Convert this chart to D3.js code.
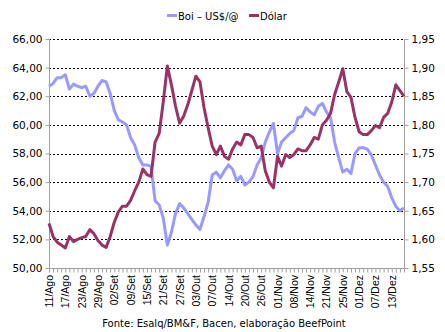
<!DOCTYPE html>
<html><head><meta charset="utf-8">
<script src="https://cdn.jsdelivr.net/npm/d3@7"></script>
<style>
body{margin:0;background:#fff;}
svg text{font-family:"DejaVu Sans",Verdana,sans-serif;fill:#000;}
</style></head>
<body>
<svg id="c" width="445" height="332"></svg>
<script>
const dateLabels = ["11/Ago","17/Ago","23/Ago","29/Ago","02/Set","09/Set","15/Set","21/Set","27/Set","03/Out","07/Out","14/Out","20/Out","26/Out","01/Nov","08/Nov","14/Nov","21/Nov","25/Nov","01/Dez","07/Dez","13/Dez"];
const labelEvery = 4;
const boi = [62.7,62.9,63.3,63.3,63.5,62.5,62.85,62.7,62.6,62.7,62.0,62.2,62.7,63.1,63.0,62.2,61.0,60.35,60.2,60.0,
59.1,58.6,57.7,57.2,57.2,57.1,54.7,54.4,53.5,51.6,52.5,53.8,54.5,54.2,53.8,53.4,53.0,52.7,53.6,54.6,
56.5,56.7,56.3,56.8,57.2,56.9,56.1,56.4,55.8,56.0,56.4,57.2,57.7,58.8,59.5,60.1,58.0,58.8,59.1,59.4,
59.6,60.5,60.6,61.2,60.9,60.7,61.3,61.5,60.9,60.5,58.8,57.7,56.7,56.9,56.6,58.0,58.4,58.4,58.3,57.9,
57.2,56.5,56.0,55.7,54.9,54.3,54.0,54.2];
const dolar = [1.628,1.605,1.595,1.590,1.585,1.605,1.596,1.600,1.603,1.605,1.617,1.610,1.598,1.590,1.586,1.605,1.630,1.648,1.658,1.658,
1.668,1.685,1.700,1.723,1.713,1.710,1.770,1.785,1.840,1.903,1.870,1.833,1.803,1.815,1.835,1.860,1.885,1.875,1.830,1.795,
1.763,1.748,1.763,1.745,1.740,1.758,1.770,1.765,1.783,1.783,1.778,1.760,1.763,1.720,1.700,1.690,1.745,1.728,1.748,1.743,
1.748,1.758,1.755,1.755,1.765,1.778,1.775,1.800,1.808,1.820,1.853,1.875,1.898,1.858,1.848,1.813,1.788,1.783,1.783,1.790,
1.799,1.795,1.813,1.820,1.840,1.870,1.860,1.850];
const leftTicks = [50,52,54,56,58,60,62,64,66];
const rightTicks = [1.55,1.60,1.65,1.70,1.75,1.80,1.85,1.90,1.95];
const seriesNames = ["Boi \u2013 US$/@","D\u00f3lar"];
const colors = ["#9999ff","#993366"];
const source = "Fonte: Esalq/BM&F, Bacen, elabora\u00e7\u00e3o BeefPoint";

const svg = d3.select("#c");
const L = 49, R = 404, T = 39, B = 268;
const x = d3.scaleLinear().domain([0, boi.length-1]).range([L, R]);
const yL = d3.scaleLinear().domain([50,66]).range([B, T]);
const yR = d3.scaleLinear().domain([1.55,1.95]).range([B, T]);
const fmt2 = v => v.toFixed(2).replace(".", ",");

// gridlines
svg.append("g").selectAll("line").data(leftTicks.slice(1)).join("line")
  .attr("x1", L).attr("x2", R).attr("y1", d=>Math.round(yL(d))+0.5).attr("y2", d=>Math.round(yL(d))+0.5)
  .attr("stroke", "#000").attr("stroke-width", 1).attr("stroke-dasharray", "2,2");

// left axis
const gL = svg.append("g").attr("transform", `translate(${L+0.5},0)`)
  .call(d3.axisLeft(yL).tickValues(leftTicks).tickFormat(fmt2).tickSize(4).tickPadding(3));
// right axis
const gR = svg.append("g").attr("transform", `translate(${R+0.5},0)`)
  .call(d3.axisRight(yR).tickValues(rightTicks).tickFormat(fmt2).tickSize(4).tickPadding(3));
// bottom axis
const idx = d3.range(boi.length);
const gB = svg.append("g").attr("transform", `translate(0,${B+0.5})`)
  .call(d3.axisBottom(x).tickValues(idx).tickSize(4).tickFormat(""));
[gL,gR,gB].forEach(g=>{
  g.select(".domain").attr("stroke","#a0a0a0");
  g.selectAll(".tick line").attr("stroke","#a0a0a0");
  g.selectAll("text").attr("font-size", 10.5).attr("font-family","DejaVu Sans, Verdana, sans-serif").attr("fill","#000");
});
gL.select(".domain").attr("d", `M0,${T}V${B}`);
gR.select(".domain").attr("d", `M0,${T}V${B}`);
gB.select(".domain").attr("d", `M${L},0H${R}`);

// x labels
svg.append("g").selectAll("text").data(dateLabels).join("text")
  .attr("transform", (d,i)=>`translate(${x(i*labelEvery)+4},${B+7}) rotate(-90)`)
  .attr("text-anchor","end")
  .style("font-family","Liberation Sans, Arial, sans-serif").attr("font-size", 10.5)
  .text(d=>d);

// lines
svg.append("path").datum(boi).attr("fill","none").attr("stroke",colors[0]).attr("stroke-width",3)
  .attr("stroke-linejoin","round")
  .attr("d", d3.line().x((d,i)=>x(i)).y(d=>yL(d)));
svg.append("path").datum(dolar).attr("fill","none").attr("stroke",colors[1]).attr("stroke-width",3)
  .attr("stroke-linejoin","round")
  .attr("d", d3.line().x((d,i)=>x(i)).y(d=>yR(d)));

// legend
const lg = svg.append("g");
const legX = [167, 249];
seriesNames.forEach((n,i)=>{
  lg.append("rect").attr("x", legX[i]).attr("y", 14).attr("width", 10).attr("height", 3).attr("fill", colors[i]);
  lg.append("text").attr("x", legX[i]+11).attr("y", 19.5).attr("font-size", 10).text(n);
});

// source
svg.append("text").attr("x", 224).attr("y", 327).attr("text-anchor","middle").attr("font-size", 10).text(source);
</script>
</body></html>
